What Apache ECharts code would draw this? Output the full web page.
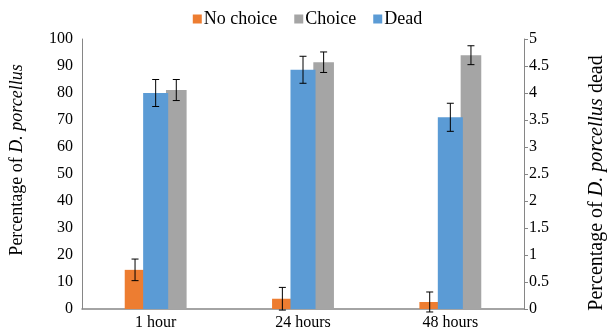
<!DOCTYPE html>
<html><head><meta charset="utf-8">
<script src="https://cdn.jsdelivr.net/npm/echarts@6/dist/echarts.min.js"></script>
<style>html,body{margin:0;padding:0;background:#fff}#c{width:615px;height:331px}</style>
</head><body><div id="c"></div>
<script>
var categories = ['1 hour', '24 hours', '48 hours'];
var noChoice = [14.5, 3.8, 2.6];
var noChoiceErr = [4.0, 4.2, 3.7];
var choice = [81.1, 91.4, 94.0];
var choiceErr = [3.9, 3.8, 3.5];
var dead = [4.0, 4.43, 3.55];
var deadErr = [0.25, 0.25, 0.26];
var leftTicks = {min: 0, max: 100, interval: 10};
var rightTicks = {min: 0, max: 5, interval: 0.5};

var FONT = 'Liberation Serif';
var BW = 0.14, DW = 0.17;
function errSeries(name, vals, errs, xIdx, yIdx, offFrac) {
  return {
    type: 'custom', name: name + ' err', xAxisIndex: xIdx, yAxisIndex: yIdx, z: 10,
    data: vals.map(function (v, i) { return [i, v - errs[i], v + errs[i]]; }),
    renderItem: function (params, api) {
      var bw = api.size([1, 0])[0];
      var lo = api.coord([api.value(0), api.value(1)]);
      var hi = api.coord([api.value(0), api.value(2)]);
      var x = lo[0] + offFrac * bw;
      var c = 3.5;
      var st = {stroke: '#000', lineWidth: 1};
      return {type: 'group', children: [
        {type: 'line', shape: {x1: x, y1: lo[1], x2: x, y2: hi[1]}, style: st},
        {type: 'line', shape: {x1: x - c, y1: lo[1], x2: x + c, y2: lo[1]}, style: st},
        {type: 'line', shape: {x1: x - c, y1: hi[1], x2: x + c, y2: hi[1]}, style: st}
      ]};
    }
  };
}
function rich(size) {
  return {n: {fontFamily: FONT, fontSize: size, color: '#000'}, i: {fontFamily: FONT, fontSize: size, fontStyle: 'italic', color: '#000'}};
}
var chart = echarts.init(document.getElementById('c'));
chart.setOption({
  animation: false,
  textStyle: {fontFamily: FONT},
  legend: {
    top: 5, left: 'center', itemWidth: 9, itemHeight: 9, itemGap: 17,
    icon: 'rect',
    textStyle: {fontFamily: FONT, fontSize: 18, color: '#000', padding: [0, 0, 0, -3]},
    data: ['No choice', 'Choice', 'Dead']
  },
  grid: {left: 81, right: 72, top: 39, bottom: 22},
  xAxis: [
    {type: 'category', data: categories, axisTick: {show: false},
     axisLine: {lineStyle: {color: '#868686', width: 1.5}},
     axisLabel: {fontFamily: FONT, fontSize: 16, color: '#000', margin: 6}},
    {type: 'category', data: categories, show: false}
  ],
  yAxis: [
    {type: 'value', min: leftTicks.min, max: leftTicks.max, interval: leftTicks.interval,
     splitLine: {show: false}, axisTick: {show: false},
     axisLine: {show: true, lineStyle: {color: '#868686'}},
     axisLabel: {fontFamily: FONT, fontSize: 16, color: '#000', margin: 9},
     name: '{n|Percentage of }{i|D. porcellus}', nameLocation: 'middle', nameRotate: 90, nameGap: 56,
     nameTextStyle: {rich: rich(18), padding: [0, 0, 0, 28]}},
    {type: 'value', position: 'right', min: rightTicks.min, max: rightTicks.max, interval: rightTicks.interval,
     splitLine: {show: false},
     axisTick: {show: true, length: 4, lineStyle: {color: '#868686'}},
     axisLabel: {fontFamily: FONT, fontSize: 16, color: '#000', margin: 5},
     axisLine: {show: true, lineStyle: {color: '#868686'}},
     name: '{n|Percentage of }{i|D. porcellus}{n| dead}', nameLocation: 'middle', nameRotate: 90, nameGap: 63,
     nameTextStyle: {rich: rich(20), padding: [0, 18, 0, 0]}}
  ],
  series: [
    {name: 'No choice', type: 'bar', xAxisIndex: 0, yAxisIndex: 0, data: noChoice,
     barWidth: (BW * 100) + '%', barGap: '100%', itemStyle: {color: '#ED7D31'}},
    {name: 'Choice', type: 'bar', xAxisIndex: 0, yAxisIndex: 0, data: choice,
     barWidth: (BW * 100) + '%', barGap: '100%', itemStyle: {color: '#A5A5A5'}},
    {name: 'Dead', type: 'bar', xAxisIndex: 1, yAxisIndex: 1, data: dead, z: 3,
     barWidth: (DW * 100) + '%', itemStyle: {color: '#5B9BD5'}},
    errSeries('No choice', noChoice, noChoiceErr, 0, 0, -BW),
    errSeries('Choice', choice, choiceErr, 0, 0, BW),
    errSeries('Dead', dead, deadErr, 1, 1, 0)
  ]
});
</script></body></html>
